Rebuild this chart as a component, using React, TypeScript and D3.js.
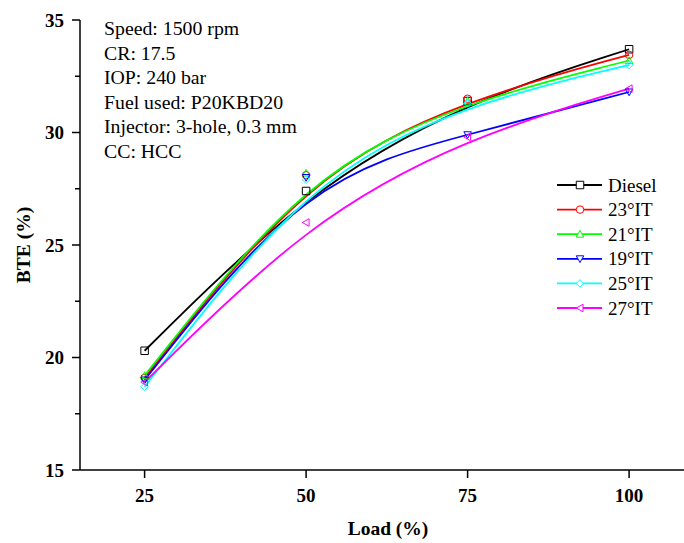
import React, { useEffect, useRef } from "react";
import * as d3 from "d3";

const loads = [25, 50, 75, 100];
const seriesNames = ["Diesel", "23°IT", "21°IT", "19°IT", "25°IT", "27°IT"];
const diesel = [20.3, 27.4, 31.4, 33.7];
const it23 = [19.1, 28.1, 31.5, 33.45];
const it21 = [19.2, 28.2, 31.4, 33.2];
const it19 = [19.0, 28.0, 29.9, 31.8];
const it25 = [18.7, 27.9, 31.3, 33.0];
const it27 = [18.9, 26.0, 29.8, 31.95];
const seriesValues = [diesel, it23, it21, it19, it25, it27];
const colors = ["#000000", "#ff0000", "#00ff00", "#0000ff", "#00ffff", "#ff00ff"];
const markerTypes = ["square", "circle", "triUp", "triDown", "diamond", "triLeft"];
const xTicks = [25, 50, 75, 100];
const yTicks = [15, 20, 25, 30, 35];
const yMinorTicks = [17.5, 22.5, 27.5, 32.5];
const annotations = [
  "Speed: 1500 rpm",
  "CR: 17.5",
  "IOP: 240 bar",
  "Fuel used: P20KBD20",
  "Injector: 3-hole, 0.3 mm",
  "CC: HCC",
];

const W = 684;
const H = 543;
const FONT = "'Liberation Serif', 'Times New Roman', serif";

function markerPath(type: string, s: number): string {
  const h = s / 2;
  switch (type) {
    case "square":
      return `M${-h},${-h}L${h},${-h}L${h},${h}L${-h},${h}Z`;
    case "circle":
      return `M${h},0A${h},${h},0,1,1,${-h},0A${h},${h},0,1,1,${h},0Z`;
    case "triUp":
      return `M0,${-h}L${h},${h * 0.8}L${-h},${h * 0.8}Z`;
    case "triDown":
      return `M0,${h}L${h},${-h * 0.8}L${-h},${-h * 0.8}Z`;
    case "diamond":
      return `M0,${-h}L${h},0L0,${h}L${-h},0Z`;
    case "triLeft":
      return `M${-h},0L${h * 0.8},${-h}L${h * 0.8},${h}Z`;
  }
  return "";
}

export default function App() {
  const ref = useRef<SVGSVGElement>(null);

  useEffect(() => {
    const svg = d3.select(ref.current);
    svg.selectAll("*").remove();

    const x = d3.scaleLinear().domain([15, 110]).range([80, 80 + 95 * 6.46]);
    const y = d3.scaleLinear().domain([15, 35]).range([470, 20]);

    const g = svg.append("g");

    // axes lines
    g.append("line").attr("x1", 80).attr("x2", W).attr("y1", y(15)).attr("y2", y(15))
      .attr("stroke", "#000").attr("stroke-width", 1.5);
    g.append("line").attr("x1", 80).attr("x2", 80).attr("y1", y(35)).attr("y2", y(15))
      .attr("stroke", "#000").attr("stroke-width", 1.5);

    // y ticks
    yTicks.forEach((t) => {
      g.append("line").attr("x1", 72).attr("x2", 80).attr("y1", y(t)).attr("y2", y(t))
        .attr("stroke", "#000").attr("stroke-width", 1.5);
      g.append("text").attr("x", 64).attr("y", y(t)).attr("dy", "0.35em")
        .attr("text-anchor", "end").attr("font-family", FONT).attr("font-weight", "bold")
        .attr("font-size", 19).text(String(t));
    });
    yMinorTicks.forEach((t) => {
      g.append("line").attr("x1", 75).attr("x2", 80).attr("y1", y(t)).attr("y2", y(t))
        .attr("stroke", "#000").attr("stroke-width", 1.5);
    });
    // x ticks
    xTicks.forEach((t) => {
      g.append("line").attr("x1", x(t)).attr("x2", x(t)).attr("y1", y(15)).attr("y2", y(15) + 8)
        .attr("stroke", "#000").attr("stroke-width", 1.5);
      g.append("text").attr("x", x(t)).attr("y", 502)
        .attr("text-anchor", "middle").attr("font-family", FONT).attr("font-weight", "bold")
        .attr("font-size", 19).text(String(t));
    });

    // axis titles
    g.append("text").attr("x", 388).attr("y", 535).attr("text-anchor", "middle")
      .attr("font-family", FONT).attr("font-weight", "bold").attr("font-size", 19.5).text("Load (%)");
    g.append("text").attr("transform", `translate(30,245) rotate(-90)`).attr("text-anchor", "middle")
      .attr("font-family", FONT).attr("font-weight", "bold").attr("font-size", 19.5).text("BTE (%)");

    // lines
    const line = d3.line<number>()
      .x((_, i) => x(loads[i]))
      .y((v) => y(v))
      .curve(d3.curveBasis);

    seriesValues.forEach((vals, si) => {
      g.append("path").attr("d", line(vals) || "").attr("fill", "none")
        .attr("stroke", colors[si]).attr("stroke-width", 1.8);
    });
    seriesValues.forEach((vals, si) => {
      vals.forEach((v, i) => {
        g.append("path").attr("d", markerPath(markerTypes[si], 7.5))
          .attr("transform", `translate(${x(loads[i])},${y(v)})`)
          .attr("fill", "none").attr("stroke", colors[si]).attr("stroke-width", 1);
      });
    });

    // annotations
    annotations.forEach((a, i) => {
      g.append("text").attr("x", 104).attr("y", 35 + i * 24.6)
        .attr("font-family", FONT).attr("font-size", 19.8).text(a);
    });

    // legend
    seriesNames.forEach((n, i) => {
      const ly = 185 + i * 24.6;
      g.append("line").attr("x1", 557).attr("x2", 602).attr("y1", ly).attr("y2", ly)
        .attr("stroke", colors[i]).attr("stroke-width", 1.8);
      g.append("path").attr("d", markerPath(markerTypes[i], 7.5))
        .attr("transform", `translate(580,${ly})`)
        .attr("fill", "#fff").attr("stroke", colors[i]).attr("stroke-width", 1);
      g.append("text").attr("x", 608).attr("y", ly).attr("dy", "0.35em")
        .attr("font-family", FONT).attr("font-size", 19).text(n);
    });
  }, []);

  return (
    <svg
      ref={ref}
      width={W}
      height={H}
      style={{ position: "absolute", left: 0, top: 0, background: "#fff" }}
    />
  );
}
